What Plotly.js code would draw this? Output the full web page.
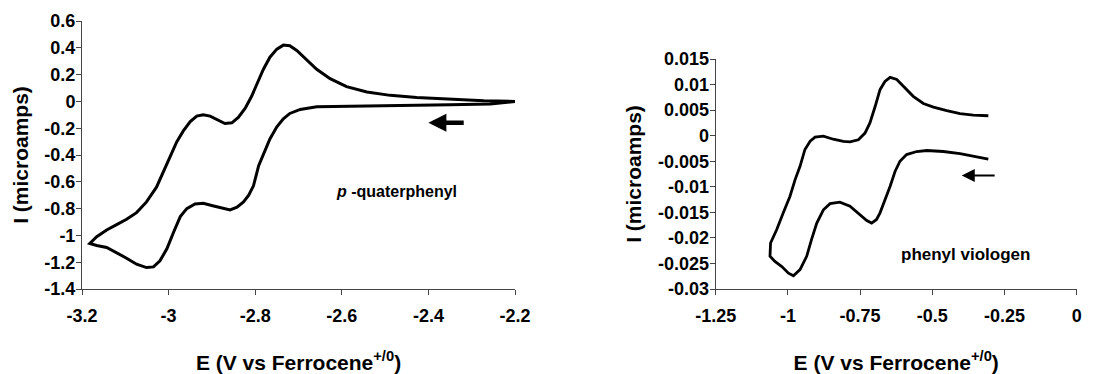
<!DOCTYPE html>
<html>
<head>
<meta charset="utf-8">
<script src="https://cdn.plot.ly/plotly-3.0.1.min.js"></script>
<style>html,body{margin:0;padding:0;background:#fff;}#chart{width:1105px;height:374px;}</style>
</head>
<body>
<div id="chart"></div>
<script>
// p-quaterphenyl CV: forward (cathodic) scan from -2.2 V to -3.18 V, then return
const quatForwardE = [-2.2,-2.257,-2.35,-2.45,-2.54,-2.62,-2.658,-2.696,-2.72,-2.735,-2.75,-2.766,-2.781,-2.792,-2.804,-2.815,-2.827,-2.842,-2.858,-2.873,-2.896,-2.92,-2.939,-2.958,-2.973,-2.989,-3.004,-3.02,-3.035,-3.051,-3.074,-3.097,-3.12,-3.143,-3.166,-3.182];
const quatForwardI = [0,-0.02,-0.025,-0.03,-0.03,-0.035,-0.04,-0.06,-0.09,-0.13,-0.19,-0.28,-0.40,-0.48,-0.63,-0.70,-0.75,-0.79,-0.81,-0.80,-0.78,-0.76,-0.765,-0.80,-0.86,-0.98,-1.10,-1.19,-1.235,-1.24,-1.215,-1.17,-1.13,-1.09,-1.075,-1.06];
const quatReturnE = [-3.182,-3.166,-3.143,-3.12,-3.097,-3.074,-3.051,-3.028,-3.012,-2.997,-2.981,-2.966,-2.95,-2.935,-2.92,-2.904,-2.885,-2.87,-2.854,-2.839,-2.823,-2.808,-2.796,-2.781,-2.766,-2.75,-2.735,-2.72,-2.704,-2.681,-2.658,-2.627,-2.589,-2.542,-2.488,-2.427,-2.35,-2.272,-2.2];
const quatReturnI = [-1.06,-1.01,-0.96,-0.92,-0.88,-0.83,-0.75,-0.64,-0.52,-0.42,-0.30,-0.22,-0.15,-0.11,-0.10,-0.11,-0.14,-0.165,-0.16,-0.12,-0.05,0.04,0.13,0.24,0.33,0.39,0.42,0.415,0.38,0.31,0.24,0.17,0.11,0.07,0.045,0.03,0.015,0.005,0];

// phenyl viologen CV
const violForwardE = [-0.306,-0.358,-0.404,-0.462,-0.519,-0.554,-0.589,-0.612,-0.629,-0.646,-0.664,-0.681,-0.693,-0.71,-0.727,-0.75,-0.785,-0.82,-0.854,-0.877,-0.9,-0.918,-0.935,-0.958,-0.981,-0.998,-1.021,-1.045,-1.062];
const violForwardI = [-0.00457,-0.0040,-0.0035,-0.0031,-0.0029,-0.0031,-0.0037,-0.0050,-0.0070,-0.0099,-0.0125,-0.0151,-0.0164,-0.0171,-0.0166,-0.0155,-0.0138,-0.0130,-0.0133,-0.0145,-0.0171,-0.0203,-0.0236,-0.0262,-0.0274,-0.0269,-0.0256,-0.0246,-0.0236];
const violReturnE = [-1.062,-1.06,-1.039,-1.016,-0.993,-0.975,-0.958,-0.941,-0.923,-0.906,-0.877,-0.843,-0.808,-0.785,-0.756,-0.733,-0.716,-0.698,-0.681,-0.664,-0.646,-0.623,-0.6,-0.566,-0.531,-0.496,-0.45,-0.404,-0.358,-0.306];
const violReturnI = [-0.0236,-0.021,-0.0184,-0.0151,-0.0119,-0.0086,-0.0060,-0.0027,-0.0011,-0.0003,-0.0001,-0.0007,-0.0011,-0.0012,-0.0008,0.0005,0.0025,0.0057,0.0090,0.0106,0.0114,0.0110,0.0097,0.0077,0.0063,0.0056,0.0049,0.0043,0.0040,0.0039];

// tick labels
const quatXTicks = [-3.2,-3,-2.8,-2.6,-2.4,-2.2];
const quatXLabels = ["-3.2","-3","-2.8","-2.6","-2.4","-2.2"];
const quatYTicks = [0.6,0.4,0.2,0,-0.2,-0.4,-0.6,-0.8,-1,-1.2,-1.4];
const quatYLabels = ["0.6","0.4","0.2","0","-0.2","-0.4","-0.6","-0.8","-1","-1.2","-1.4"];
const violXTicks = [-1.25,-1,-0.75,-0.5,-0.25,0];
const violXLabels = ["-1.25","-1","-0.75","-0.5","-0.25","0"];
const violYTicks = [0.015,0.01,0.005,0,-0.005,-0.01,-0.015,-0.02,-0.025,-0.03];
const violYLabels = ["0.015","0.01","0.005","0","-0.005","-0.01","-0.015","-0.02","-0.025","-0.03"];

// arrows (scan direction)
const quatArrow = {from:[-2.315,-0.16], to:[-2.40,-0.16]};
const violArrow = {from:[-0.279,-0.0078], to:[-0.398,-0.0078]};

const FONT = 'Liberation Sans, Arial, sans-serif';
const lineStyle = {color:'#000', width:3};

const traces = [
  {x: quatForwardE.concat(quatReturnE), y: quatForwardI.concat(quatReturnI), mode:'lines', line:lineStyle, xaxis:'x', yaxis:'y', hoverinfo:'skip'},
  {x: violForwardE.concat(violReturnE), y: violForwardI.concat(violReturnI), mode:'lines', line:{color:'#000', width:2.8}, xaxis:'x2', yaxis:'y2', hoverinfo:'skip'}
];

const axisCommon = {
  showgrid:false, zeroline:false, showline:true, linecolor:'#444', linewidth:1,
  ticks:'outside', ticklen:5, tickcolor:'#444', tickwidth:1,
  tickmode:'array', tickfont:{family:FONT, size:18, color:'#000', weight:'bold'},
  automargin:false
};
const titleFont = {family:FONT, size:21, color:'#000', weight:'bold'};
const xTitle = 'E (V vs Ferrocene<sup>+/0</sup>)';
const yTitle = 'I (microamps)';

const layout = {
  width:1105, height:374,
  margin:{l:0, r:0, t:0, b:0},
  paper_bgcolor:'#fff', plot_bgcolor:'#fff',
  showlegend:false,
  xaxis: Object.assign({}, axisCommon, {domain:[82/1105, 515/1105], range:[-3.2,-2.2], anchor:'y',
    ticklabelstandoff:5, tickvals:quatXTicks, ticktext:quatXLabels, title:{text:xTitle, font:titleFont, standoff:30}}),
  yaxis: Object.assign({}, axisCommon, {domain:[85/374, 353/374], range:[-1.4,0.6], anchor:'x',
    ticklabelstandoff:-3, tickvals:quatYTicks, ticktext:quatYLabels, title:{text:yTitle, font:titleFont, standoff:10}}),
  xaxis2: Object.assign({}, axisCommon, {domain:[715.7/1105, 1076.7/1105], range:[-1.25,0], anchor:'y2',
    ticklabelstandoff:5, tickvals:violXTicks, ticktext:violXLabels, title:{text:xTitle, font:titleFont, standoff:30}}),
  yaxis2: Object.assign({}, axisCommon, {domain:[85/374, 315/374], range:[-0.03,0.015], anchor:'x2',
    ticklabelstandoff:-3, tickvals:violYTicks, ticktext:violYLabels, title:{text:yTitle, font:titleFont, standoff:10}}),
  annotations: [
    {xref:'x', yref:'y', x:quatArrow.to[0], y:quatArrow.to[1], ax:quatArrow.from[0], ay:quatArrow.from[1],
     axref:'x', ayref:'y', showarrow:true, arrowhead:2, arrowsize:0.8, arrowwidth:4.5, arrowcolor:'#000', text:''},
    {xref:'x2', yref:'y2', x:violArrow.to[0], y:violArrow.to[1], ax:violArrow.from[0], ay:violArrow.from[1],
     axref:'x2', ayref:'y2', showarrow:true, arrowhead:2, arrowsize:1.3, arrowwidth:2, arrowcolor:'#000', text:''},
    {xref:'x', yref:'y', x:-2.617, y:-0.675, xanchor:'left', yanchor:'middle', showarrow:false,
     text:'<i>p</i> -quaterphenyl', font:{family:FONT, size:16, color:'#000', weight:'bold'}},
    {xref:'x2', yref:'y2', x:-0.614, y:-0.0233, xanchor:'left', yanchor:'middle', showarrow:false,
     text:'phenyl viologen', font:{family:FONT, size:17, color:'#000', weight:'bold'}}
  ]
};

Plotly.newPlot('chart', traces, layout, {staticPlot:true, displayModeBar:false});
</script>
</body>
</html>
